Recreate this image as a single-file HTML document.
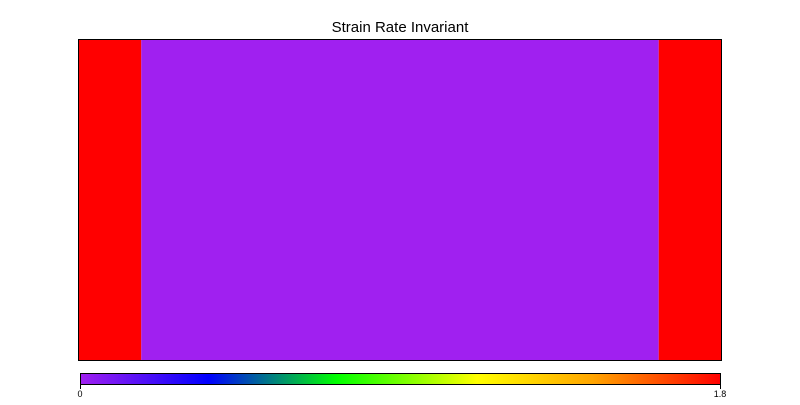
<!DOCTYPE html>
<html><head><meta charset="utf-8"><style>
body{margin:0;background:#fff;width:800px;height:400px;overflow:hidden;font-family:"Liberation Sans",sans-serif}
</style></head><body>
<svg id="c" width="800" height="400">
<defs>
<linearGradient id="cmap" x1="0" x2="1" y1="0" y2="0">
<stop offset="0" stop-color="#a020f0"/>
<stop offset="0.2" stop-color="#0000ff"/>
<stop offset="0.4" stop-color="#00ff00"/>
<stop offset="0.62" stop-color="#ffff00"/>
<stop offset="0.8" stop-color="#ffa500"/>
<stop offset="1" stop-color="#ff0000"/>
</linearGradient>
</defs>
<text x="400" y="32" text-anchor="middle" font-size="15" fill="#000">Strain Rate Invariant</text>
<g id="field"></g>
<rect x="78.5" y="39.5" width="643" height="321" fill="none" stroke="#000" stroke-width="1"/>
<rect x="80.5" y="373.5" width="640" height="11" fill="url(#cmap)" stroke="#000" stroke-width="1"/>
<line x1="80.5" y1="384" x2="80.5" y2="389" stroke="#000"/>
<line x1="720.5" y1="384" x2="720.5" y2="389" stroke="#000"/>
<text x="80" y="397" text-anchor="middle" font-size="9">0</text>
<text x="720" y="397" text-anchor="middle" font-size="9">1.8</text>
</svg>
<script>
const xEdges=[0,0.097,0.903,1];
const values=[1.8,0,1.8];
const vmin=0, vmax=1.8;
const stops=[[0,[160,32,240]],[0.2,[0,0,255]],[0.4,[0,255,0]],[0.62,[255,255,0]],[0.8,[255,165,0]],[1,[255,0,0]]];
function color(v){let t=(v-vmin)/(vmax-vmin);t=Math.max(0,Math.min(1,t));
for(let i=1;i<stops.length;i++){if(t<=stops[i][0]){const a=stops[i-1],b=stops[i];const f=(t-a[0])/(b[0]-a[0]);
return 'rgb('+a[1].map((c,k)=>Math.round(c+(b[1][k]-c)*f)).join(',')+')';}}return 'rgb(255,0,0)';}
const X0=79,X1=721,Y0=40,Y1=360;
const sx=d=>X0+d*(X1-X0);
const g=document.getElementById('field');
for(let i=0;i<values.length;i++){
const r=document.createElementNS('http://www.w3.org/2000/svg','rect');
r.setAttribute('x',sx(xEdges[i]));r.setAttribute('y',Y0);
r.setAttribute('width',sx(xEdges[i+1])-sx(xEdges[i]));r.setAttribute('height',Y1-Y0);
r.setAttribute('fill',color(values[i]));


g.appendChild(r);}
</script>
</body></html>
